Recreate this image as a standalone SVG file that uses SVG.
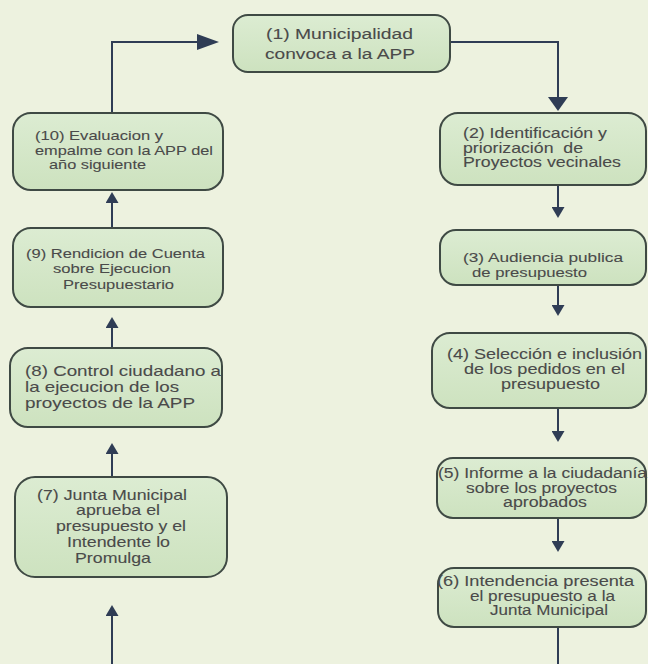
<svg xmlns="http://www.w3.org/2000/svg" width="648" height="664" viewBox="0 0 648 664">
  <defs>
    <linearGradient id="gf" x1="0" y1="0" x2="0" y2="1">
      <stop offset="0" stop-color="#dcecd2"/>
      <stop offset="1" stop-color="#cde2bf"/>
    </linearGradient>
    <marker id="ahs" viewBox="0 0 11 13" markerWidth="11" markerHeight="13" markerUnits="userSpaceOnUse" refX="9" refY="6.5" orient="auto">
      <path d="M0,0 L11,6.5 L0,13 Z" fill="#2f3d55"/>
    </marker>
    <marker id="ahbh" viewBox="0 0 22 16" markerWidth="22" markerHeight="16" markerUnits="userSpaceOnUse" refX="19" refY="8" orient="auto">
      <path d="M0,0 L22,8 L0,16 Z" fill="#2f3d55"/>
    </marker>
    <marker id="ahbv" viewBox="0 0 14 20" markerWidth="14" markerHeight="20" markerUnits="userSpaceOnUse" refX="11" refY="10" orient="auto">
      <path d="M0,0 L14,10 L0,20 Z" fill="#2f3d55"/>
    </marker>
  </defs>
  <style>
    .box { fill: url(#gf); stroke: #3f4a44; stroke-width: 2; }
    .t { font-family: "Liberation Sans", Arial, sans-serif; fill: #4a4a4a; stroke: #4a4a4a; stroke-width: 0.1; }
    .c { fill: none; stroke: #2f3d55; stroke-width: 2; }
  </style>
  <rect x="0" y="0" width="648" height="664" fill="#edf2df"/>

  <g id="connectors">
    <path class="c" d="M112,113 V42 H216" marker-end="url(#ahbh)"/>
    <path class="c" d="M450,42 H558 V108" marker-end="url(#ahbv)"/>
    <path class="c" d="M558,185 V216" marker-end="url(#ahs)"/>
    <path class="c" d="M558,285 V314" marker-end="url(#ahs)"/>
    <path class="c" d="M558,408 V440" marker-end="url(#ahs)"/>
    <path class="c" d="M558,518 V550" marker-end="url(#ahs)"/>
    <path class="c" d="M558,627 V664"/>
    <path class="c" d="M112,664 V607" marker-end="url(#ahs)"/>
    <path class="c" d="M112,477 V445" marker-end="url(#ahs)"/>
    <path class="c" d="M112,348 V319" marker-end="url(#ahs)"/>
    <path class="c" d="M112,228 V194" marker-end="url(#ahs)"/>
  </g>

  <g id="n1" font-size="15.5">
    <rect class="box" x="233" y="15" width="217" height="57" rx="15"/>
    <text class="t" x="266" y="39" textLength="147" lengthAdjust="spacingAndGlyphs">(1) Municipalidad</text>
    <text class="t" x="265" y="59" textLength="150" lengthAdjust="spacingAndGlyphs">convoca a la APP</text>
  </g>

  <g id="n2" font-size="14.2">
    <rect class="box" x="440" y="113" width="206" height="72" rx="18"/>
    <text class="t" x="463" y="138" textLength="144" lengthAdjust="spacingAndGlyphs">(2) Identificación y</text>
    <text class="t" x="463" y="152.5" textLength="120" lengthAdjust="spacingAndGlyphs" xml:space="preserve">priorización  de</text>
    <text class="t" x="463" y="167" textLength="158" lengthAdjust="spacingAndGlyphs">Proyectos vecinales</text>
  </g>

  <g id="n3" font-size="13.7">
    <rect class="box" x="440" y="230" width="206" height="55" rx="16"/>
    <text class="t" x="463" y="262" textLength="160" lengthAdjust="spacingAndGlyphs">(3) Audiencia publica</text>
    <text class="t" x="472" y="277" textLength="115" lengthAdjust="spacingAndGlyphs">de presupuesto</text>
  </g>

  <g id="n4" font-size="14.4">
    <rect class="box" x="432" y="333" width="214" height="75" rx="18"/>
    <text class="t" x="447" y="359" textLength="195" lengthAdjust="spacingAndGlyphs">(4) Selección e inclusión</text>
    <text class="t" x="464" y="374" textLength="161" lengthAdjust="spacingAndGlyphs">de los pedidos en el</text>
    <text class="t" x="501" y="389" textLength="99" lengthAdjust="spacingAndGlyphs">presupuesto</text>
  </g>

  <g id="n5" font-size="14">
    <rect class="box" x="437" y="458" width="209" height="60" rx="16"/>
    <text class="t" x="438" y="478" textLength="209" lengthAdjust="spacingAndGlyphs">(5) Informe a la ciudadanía</text>
    <text class="t" x="466" y="492.5" textLength="151" lengthAdjust="spacingAndGlyphs">sobre los proyectos</text>
    <text class="t" x="503" y="507" textLength="84" lengthAdjust="spacingAndGlyphs">aprobados</text>
  </g>

  <g id="n6" font-size="14">
    <rect class="box" x="438" y="568" width="208" height="59" rx="16"/>
    <text class="t" x="437" y="586" textLength="197" lengthAdjust="spacingAndGlyphs">(6) Intendencia presenta</text>
    <text class="t" x="470" y="600.5" textLength="145" lengthAdjust="spacingAndGlyphs">el presupuesto a la</text>
    <text class="t" x="490" y="615" textLength="118" lengthAdjust="spacingAndGlyphs">Junta Municipal</text>
  </g>

  <g id="n7" font-size="14.2">
    <rect class="box" x="15" y="477" width="212" height="100" rx="20"/>
    <text class="t" x="37" y="500" textLength="150" lengthAdjust="spacingAndGlyphs">(7) Junta Municipal</text>
    <text class="t" x="76" y="515" textLength="84" lengthAdjust="spacingAndGlyphs">aprueba el</text>
    <text class="t" x="56" y="531" textLength="130" lengthAdjust="spacingAndGlyphs">presupuesto y el</text>
    <text class="t" x="67" y="547" textLength="103" lengthAdjust="spacingAndGlyphs">Intendente lo</text>
    <text class="t" x="75" y="563" textLength="76" lengthAdjust="spacingAndGlyphs">Promulga</text>
  </g>

  <g id="n8" font-size="15">
    <rect class="box" x="10" y="348" width="212" height="79" rx="18"/>
    <text class="t" x="25" y="376" textLength="196" lengthAdjust="spacingAndGlyphs">(8) Control ciudadano a</text>
    <text class="t" x="25" y="392" textLength="154" lengthAdjust="spacingAndGlyphs">la ejecucion de los</text>
    <text class="t" x="25" y="408" textLength="170" lengthAdjust="spacingAndGlyphs">proyectos de la APP</text>
  </g>

  <g id="n9" font-size="13.4">
    <rect class="box" x="13" y="228" width="210" height="79" rx="18"/>
    <text class="t" x="26" y="258" textLength="179" lengthAdjust="spacingAndGlyphs">(9) Rendicion de Cuenta</text>
    <text class="t" x="53" y="273" textLength="118" lengthAdjust="spacingAndGlyphs">sobre Ejecucion</text>
    <text class="t" x="63" y="289" textLength="111" lengthAdjust="spacingAndGlyphs">Presupuestario</text>
  </g>

  <g id="n10" font-size="13.4">
    <rect class="box" x="13" y="113" width="210" height="77" rx="18"/>
    <text class="t" x="35" y="140" textLength="128" lengthAdjust="spacingAndGlyphs">(10) Evaluacion y</text>
    <text class="t" x="35" y="154.5" textLength="178" lengthAdjust="spacingAndGlyphs">empalme con la APP del</text>
    <text class="t" x="49" y="169" textLength="97" lengthAdjust="spacingAndGlyphs">año siguiente</text>
  </g>
</svg>
